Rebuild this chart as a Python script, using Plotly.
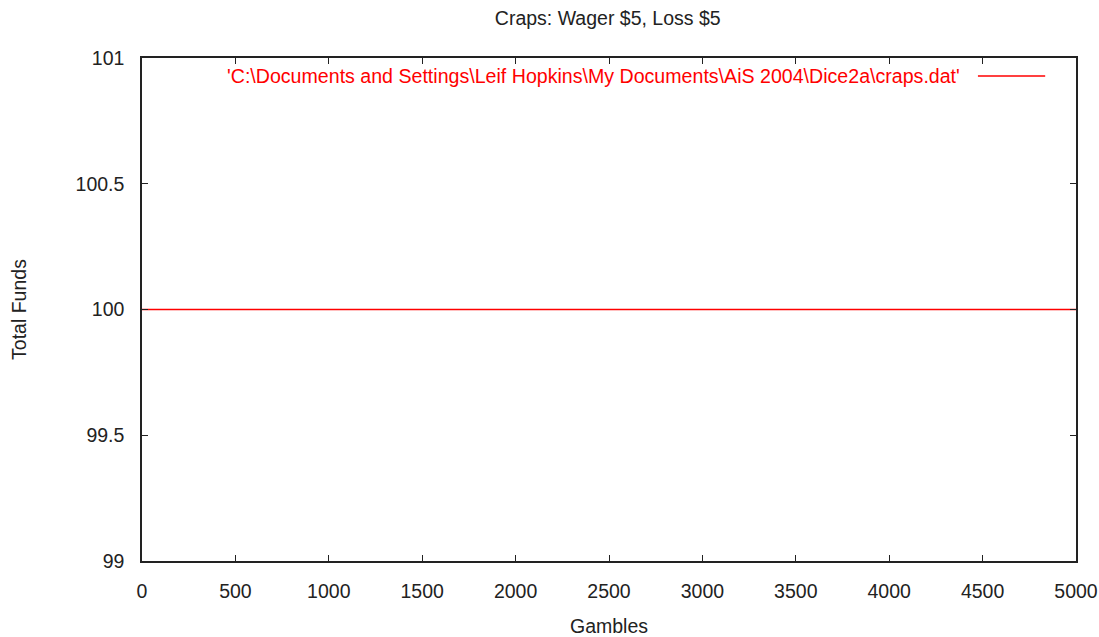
import plotly.graph_objects as go

# Bankroll after each gamble (stays flat at the starting stake)
gambles = [0, 5000]
total_funds = [100, 100]

x_ticks = [0, 500, 1000, 1500, 2000, 2500, 3000, 3500, 4000, 4500, 5000]
y_ticks = [99, 99.5, 100, 100.5, 101]

series_name = "'C:\\Documents and Settings\\Leif Hopkins\\My Documents\\AiS 2004\\Dice2a\\craps.dat'"

FONT = "Liberation Sans, Arial, sans-serif"
FS = 19.5
AXIS_COLOR = "#222222"
TEXT_COLOR = "#222222"

fig = go.Figure()
fig.add_trace(go.Scatter(
    x=gambles, y=total_funds, mode="lines",
    line=dict(color="#ff0000", width=1.5),
    name=series_name, showlegend=False,
))

axis_common = dict(
    showline=True, linecolor=AXIS_COLOR, linewidth=1.5, mirror="ticks",
    ticks="inside", ticklen=6, tickwidth=1, tickcolor=AXIS_COLOR,
    showgrid=False, zeroline=False, automargin=False,
    tickfont=dict(family=FONT, size=FS, color=TEXT_COLOR),
)

fig.update_layout(
    width=1099, height=637,
    margin=dict(l=142, r=23, t=58, b=76),
    paper_bgcolor="white", plot_bgcolor="white",
    title=dict(text="Craps: Wager $5, Loss $5", x=0.553, xanchor="center",
               y=0.972, yanchor="middle",
               font=dict(family=FONT, size=FS, color=TEXT_COLOR)),
    xaxis=dict(range=[0, 5000], tickvals=x_ticks, ticklabelstandoff=12,
               title=dict(text="Gambles", standoff=24,
                          font=dict(family=FONT, size=FS, color=TEXT_COLOR)),
               **axis_common),
    yaxis=dict(range=[99, 101], tickvals=y_ticks,
               ticktext=[f"{v:g}" for v in y_ticks], ticklabelstandoff=12,
               title=dict(text="Total Funds", standoff=44,
                          font=dict(family=FONT, size=FS, color=TEXT_COLOR)),
               **axis_common),
)

# Key entry in gnuplot style: label on the left, line sample on the right
fig.add_annotation(
    xref="paper", yref="paper", x=0.878, y=0.964,
    xanchor="right", yanchor="middle", showarrow=False,
    text=series_name, font=dict(family=FONT, size=19.6, color="#ff0000"),
)
fig.add_shape(
    type="line", xref="paper", yref="paper",
    x0=0.895, x1=0.967, y0=0.964, y1=0.964,
    line=dict(color="#ff0000", width=1.5),
)

fig.write_html("out.html")
